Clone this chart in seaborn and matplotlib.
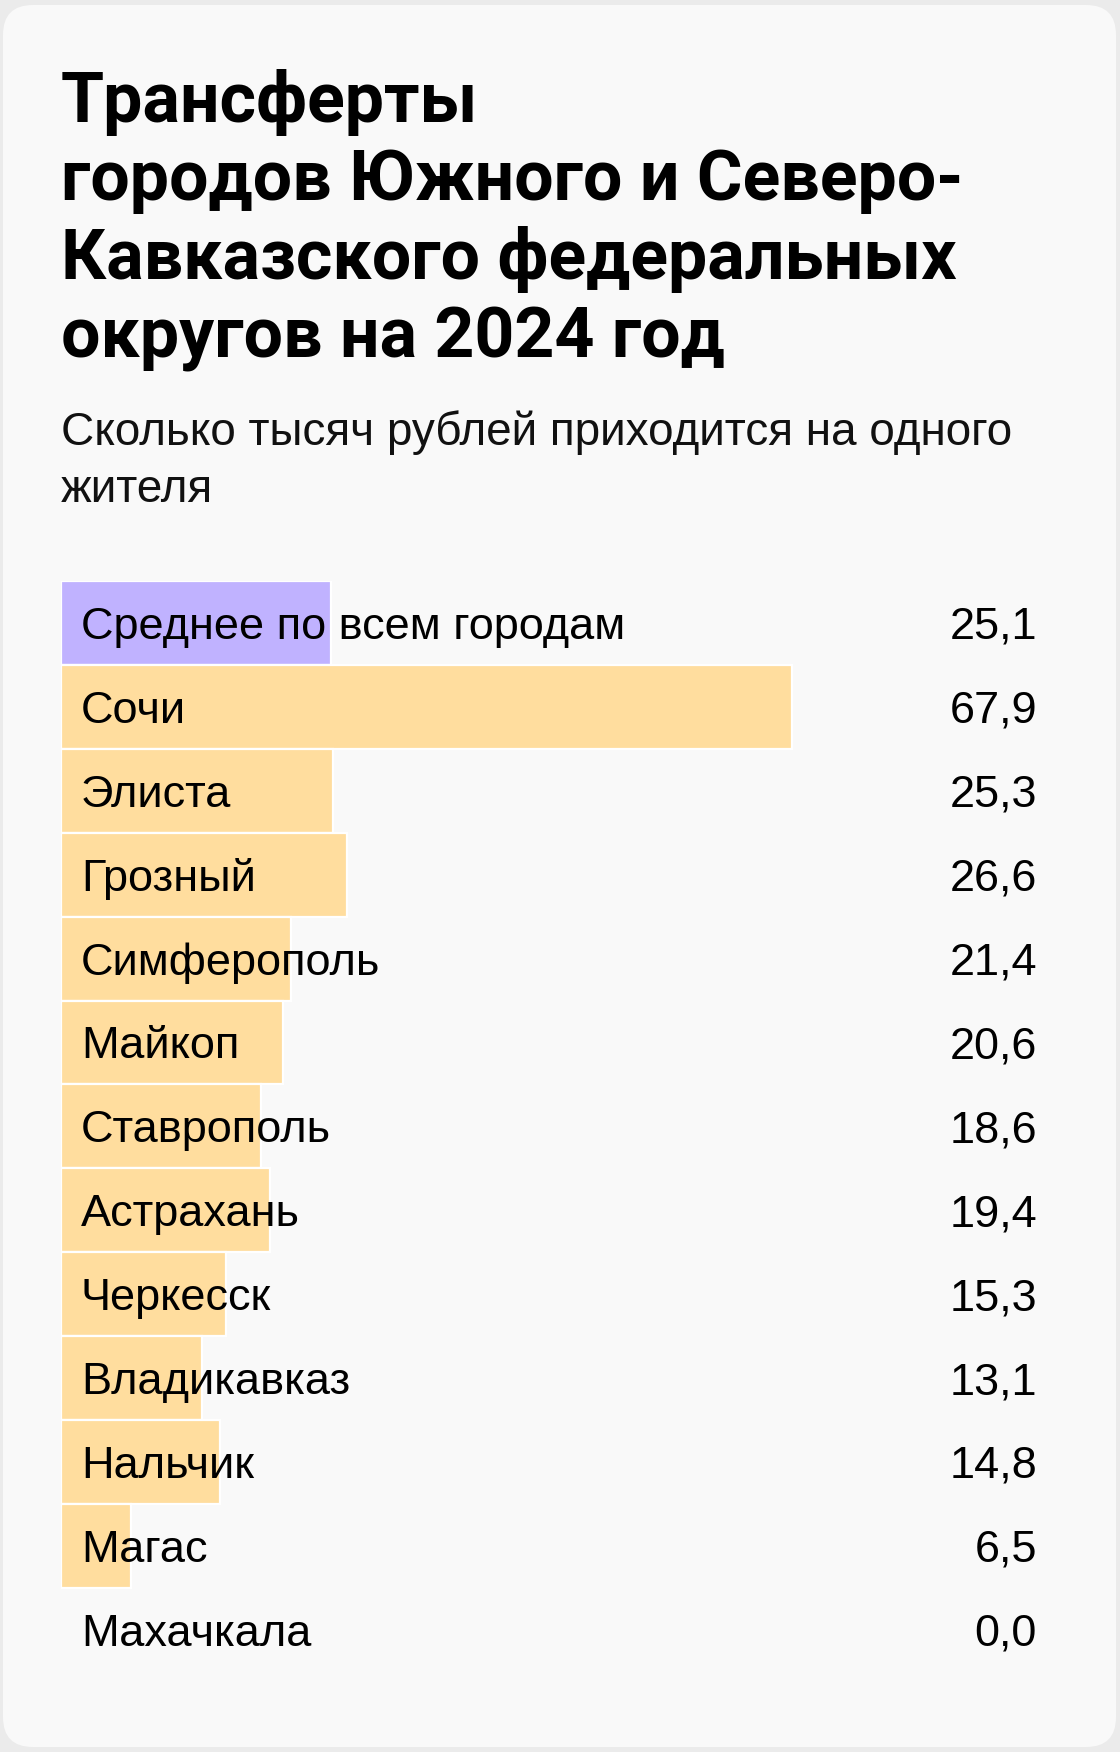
import matplotlib
matplotlib.use("Agg")
import matplotlib.pyplot as plt
from matplotlib.patches import FancyBboxPatch
from matplotlib.transforms import IdentityTransform, ScaledTranslation, blended_transform_factory
import seaborn as sns
import pandas as pd

# ---- data ----
title_lines = ["Трансферты", "городов Южного и Северо-", "Кавказского федеральных", "округов на 2024 год"]
subtitle_lines = ["Сколько тысяч рублей приходится на одного", "жителя"]
categories = ["Среднее по всем городам", "Сочи", "Элиста", "Грозный", "Симферополь", "Майкоп",
              "Ставрополь", "Астрахань", "Черкесск", "Владикавказ", "Нальчик", "Магас", "Махачкала"]
values = [25.1, 67.9, 25.3, 26.6, 21.4, 20.6, 18.6, 19.4, 15.3, 13.1, 14.8, 6.5, 0.0]
groups = ["avg"] + ["city"] * 12
palette = {"avg": "#c0b2ff", "city": "#ffdd9e"}

sns.set_theme(style="white")
REG = ["Liberation Sans", "DejaVu Sans"]
BOLD = ["Roboto", "DejaVu Sans"]
plt.rcParams["font.family"] = REG

W, H, DPI = 1120, 1752, 100
fig = plt.figure(figsize=(W / DPI, H / DPI), dpi=DPI)
fig.patch.set_facecolor("#ebebeb")
renderer = fig.canvas.get_renderer()

def fit(txt, target_px):
    w = txt.get_window_extent(renderer).width
    txt.set_fontsize(txt.get_fontsize() * target_px / w)
    return txt.get_fontsize()

# card (behind everything)
card = FancyBboxPatch((3, 5), 1113, 1742, boxstyle="round,pad=0,rounding_size=30",
                      transform=IdentityTransform(), facecolor="#f9f9f9", edgecolor="none", zorder=-10)
fig.patches.append(card)

def fy(px):
    return 1 - px / H

# title
tt = []
for i, line in enumerate(title_lines):
    tt.append(fig.text(61 / W, fy(122 + 78.5 * i), line, fontsize=50, fontweight="bold",
                       family=BOLD, color="#000000", ha="left", va="baseline"))
fs_t = fit(tt[2], 897)
for t in tt:
    t.set_fontsize(fs_t)

# subtitle
st = []
for i, line in enumerate(subtitle_lines):
    st.append(fig.text(61 / W, fy(445 + 57 * i), line, fontsize=28, color="#111111",
                       ha="left", va="baseline"))
fs_s = fit(st[0], 954)
for t in st:
    t.set_fontsize(fs_s)

# axes for bars
top_px, row_px = 581, 83.9
n = len(categories)
bottom_px = top_px + row_px * n
scale = 10.76  # px per unit
ax_left, ax_right = 61, 1037
ax = fig.add_axes([ax_left / W, fy(bottom_px), (ax_right - ax_left) / W, row_px * n / H])
ax.set_facecolor("none")

df = pd.DataFrame({"city": categories, "value": values, "group": groups})
sns.barplot(data=df, x="value", y="city", hue="group", palette=palette, dodge=False,
            orient="h", width=1.0, edgecolor="white", linewidth=1.6, legend=False,
            saturation=1, ax=ax)
for p in ax.patches:
    if p.get_width() == 0:
        p.set_linewidth(0)
ax.set_xlim(0, (ax_right - ax_left) / scale)
ax.set_ylim(n - 0.5, -0.5)
ax.set_axis_off()

off = ScaledTranslation(0, -16 / DPI, fig.dpi_scale_trans)
tr_label = blended_transform_factory(ax.transAxes, ax.transData) + off
labels, nums = [], []
for i, (c, v) in enumerate(zip(categories, values)):
    labels.append(ax.text((81 - ax_left) / (ax_right - ax_left), i, c, transform=tr_label,
                          fontsize=30, ha="left", va="baseline", color="#000000", zorder=5))
    nums.append(ax.text(1.0, i, f"{v:.1f}".replace(".", ","), transform=tr_label, fontsize=30,
                        ha="right", va="baseline", color="#000000", zorder=5))
fs_l = fit(labels[0], 545)
for t in labels + nums:
    t.set_fontsize(fs_l)

fig.savefig("out.png", dpi=DPI, facecolor=fig.get_facecolor())
